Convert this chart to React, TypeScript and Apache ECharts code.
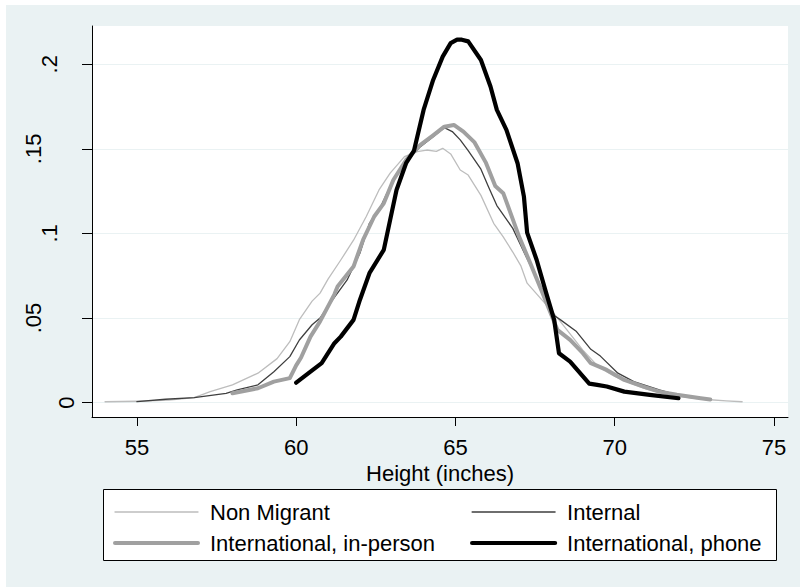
import React, { useEffect, useRef } from "react";
import * as echarts from "echarts";

const xTicks = [55, 60, 65, 70, 75];
const yTicks = [0, 0.05, 0.1, 0.15, 0.2];
const yTickLabels = ["0", ".05", ".1", ".15", ".2"];
const xTitle = "Height (inches)";
const seriesNames = ["Non Migrant", "Internal", "International, in-person", "International, phone"];

const nonMigrant: [number, number][] = [
  [54.0, 0.0005], [55.0, 0.0008], [56.0, 0.0015], [56.8, 0.003], [57.3, 0.0065],
  [58.0, 0.0105], [58.8, 0.0174], [59.4, 0.026], [59.8, 0.036], [60.1, 0.049],
  [60.5, 0.06], [60.75, 0.0647], [61.0, 0.073], [61.4, 0.0843], [61.8, 0.096],
  [62.2, 0.11], [62.6, 0.1257], [62.95, 0.1356], [63.4, 0.1454], [63.8, 0.1483],
  [64.1, 0.1493], [64.4, 0.1485], [64.6, 0.1503], [64.85, 0.147], [65.15, 0.1375],
  [65.4, 0.1345], [65.8, 0.1225], [66.2, 0.106], [66.5, 0.098], [66.8, 0.089],
  [67.05, 0.081], [67.25, 0.0706], [67.7, 0.061], [68.0, 0.0548], [68.5, 0.043],
  [69.0, 0.031], [69.5, 0.021], [70.0, 0.0155], [70.5, 0.0115], [71.0, 0.008],
  [71.5, 0.0055], [72.0, 0.0038], [72.5, 0.0025], [73.0, 0.0017], [73.5, 0.001],
  [74.0, 0.0005],
];

const internal: [number, number][] = [
  [55.0, 0.0006], [55.9, 0.002], [56.8, 0.003], [57.8, 0.0055], [58.15, 0.0075],
  [58.8, 0.0105], [59.3, 0.0183], [59.8, 0.0272], [60.1, 0.037], [60.5, 0.046],
  [60.75, 0.05], [61.0, 0.057], [61.6, 0.0725], [62.0, 0.0883], [62.3, 0.106],
  [62.65, 0.1158], [62.95, 0.1277], [63.25, 0.1375], [63.6, 0.1454], [63.9, 0.1513],
  [64.3, 0.1572], [64.65, 0.1625], [64.9, 0.1602], [65.15, 0.1553], [65.4, 0.149],
  [65.8, 0.138], [66.05, 0.127], [66.3, 0.1165], [66.8, 0.103], [67.25, 0.085],
  [67.65, 0.07], [68.1, 0.0515], [68.3, 0.0489], [68.8, 0.042], [69.25, 0.0315],
  [69.55, 0.0275], [70.1, 0.0174], [70.6, 0.0124], [71.4, 0.0075], [71.95, 0.0046],
  [72.5, 0.0026],
];

const inPerson: [number, number][] = [
  [58.0, 0.0055], [58.8, 0.0085], [59.3, 0.0124], [59.8, 0.0145], [60.0, 0.022],
  [60.15, 0.0265], [60.45, 0.039], [60.75, 0.048], [61.2, 0.064], [61.3, 0.0686],
  [61.8, 0.0804], [62.1, 0.0962], [62.45, 0.11], [62.75, 0.1178], [63.05, 0.1316],
  [63.45, 0.1434], [63.9, 0.1523], [64.3, 0.158], [64.65, 0.1631], [64.95, 0.1641],
  [65.25, 0.1602], [65.6, 0.1538], [65.95, 0.142], [66.25, 0.128], [66.5, 0.1238],
  [66.75, 0.111], [67.0, 0.098], [67.35, 0.0824], [67.75, 0.064], [68.2, 0.043],
  [68.6, 0.0371], [69.0, 0.0292], [69.25, 0.0233], [69.75, 0.0193], [70.3, 0.0134],
  [70.9, 0.0095], [71.4, 0.0065], [71.95, 0.0046], [72.7, 0.0026], [73.0, 0.0018],
];

const phone: [number, number][] = [
  [60.0, 0.0118], [60.45, 0.0183], [60.8, 0.0233], [61.2, 0.0351], [61.4, 0.039],
  [61.8, 0.0489], [62.0, 0.0607], [62.3, 0.0765], [62.75, 0.0903], [62.95, 0.108],
  [63.15, 0.1257], [63.45, 0.1415], [63.7, 0.149], [64.0, 0.173], [64.3, 0.1907],
  [64.6, 0.2045], [64.85, 0.2125], [65.05, 0.2145], [65.2, 0.2145], [65.4, 0.2135],
  [65.8, 0.2025], [66.1, 0.1868], [66.3, 0.173], [66.6, 0.1612], [66.95, 0.1415],
  [67.15, 0.1217], [67.25, 0.1005], [67.55, 0.0843], [67.85, 0.0647], [68.1, 0.0489],
  [68.25, 0.0292], [68.6, 0.0242], [69.2, 0.0112], [69.45, 0.0105], [69.75, 0.0095],
  [70.3, 0.0065], [71.1, 0.0046], [72.0, 0.0026],
];

const FONT = "'Liberation Sans', Arial, Helvetica, sans-serif";
const BG = "#EAF2F3";

export default function App() {
  const ref = useRef<HTMLDivElement>(null);

  useEffect(() => {
    if (!ref.current) return;
    const chart = echarts.init(ref.current, undefined, { renderer: "svg" });
    const labelText = { fontFamily: FONT, fontSize: 22, color: "#000" };
    const mkLine = (name: string, data: [number, number][], color: string, width: number) => ({
      name,
      type: "line",
      data,
      symbol: "none",
      showSymbol: false,
      silent: true,
      lineStyle: { color, width, join: "round", cap: "round" },
      itemStyle: { color },
      emphasis: { disabled: true },
    });
    const legendBase = {
      orient: "vertical",
      top: 501,
      itemWidth: 83,
      itemHeight: 14,
      itemGap: 9,
      padding: 0,
      selectedMode: false,
      itemStyle: { opacity: 0 },
      lineStyle: { width: "inherit" },
      textStyle: { ...labelText, lineHeight: 22, padding: [0, 0, 0, 7] },
    };
    chart.setOption({
      animation: false,
      backgroundColor: BG,
      graphic: [
        { type: "rect", left: 0, top: 0, shape: { width: 800, height: 5 }, style: { fill: "#fff" }, silent: true },
        { type: "rect", left: 0, top: 0, shape: { width: 6, height: 587 }, style: { fill: "#fff" }, silent: true },
        {
          type: "rect",
          shape: { x: 103.5, y: 489.5, width: 673, height: 71 },
          style: { fill: "#fff", stroke: "#000", lineWidth: 1 },
          silent: true,
          z: 1,
        },
      ],
      grid: {
        left: 92,
        right: 12,
        top: 26,
        bottom: 170,
        show: true,
        backgroundColor: "#fff",
        borderWidth: 0,
        containLabel: false,
      },
      xAxis: {
        type: "value",
        min: 53.59,
        max: 75.44,
        name: xTitle,
        nameLocation: "middle",
        nameGap: 40,
        nameTextStyle: labelText,
        axisLine: { show: true, onZero: false, lineStyle: { color: "#000", width: 1 } },
        axisTick: { show: true, length: 9, customValues: xTicks, lineStyle: { color: "#000", width: 1 } },
        axisLabel: { ...labelText, customValues: xTicks, margin: 19 },
        splitLine: { show: false },
      },
      yAxis: {
        type: "value",
        min: -0.0085,
        max: 0.2226,
        axisLine: { show: true, onZero: false, lineStyle: { color: "#000", width: 1 } },
        axisTick: { show: true, length: 10, customValues: yTicks, lineStyle: { color: "#000", width: 1 } },
        axisLabel: {
          ...labelText,
          customValues: yTicks,
          rotate: 90,
          margin: 15,
          formatter: (v: number) => {
            const i = yTicks.findIndex((t) => Math.abs(t - v) < 1e-9);
            const s = i >= 0 ? yTickLabels[i] : "";
            const key = s.length <= 1 ? "a" : s.length === 2 ? "b" : "c";
            return `{${key}|${s}}`;
          },
          rich: {
            a: { ...labelText, padding: [0, 0, 0, 0] },
            b: { ...labelText, padding: [0, 0, 17, 0] },
            c: { ...labelText, padding: [0, 0, 33, 0] },
          },
        },
        splitLine: { show: true, lineStyle: { color: BG, width: 1 } },
      },
      legend: [
        { ...legendBase, left: 113, data: [seriesNames[0], seriesNames[2]] },
        { ...legendBase, left: 470, data: [seriesNames[1], seriesNames[3]] },
      ],
      series: [
        mkLine(seriesNames[0], nonMigrant, "#BDBDBD", 1.3),
        mkLine(seriesNames[1], internal, "#3F3F3F", 1.3),
        mkLine(seriesNames[2], inPerson, "#A0A0A0", 4),
        mkLine(seriesNames[3], phone, "#000000", 4.2),
      ],
    });
    return () => chart.dispose();
  }, []);

  return (
    <div
      ref={ref}
      style={{ position: "absolute", left: 0, top: 0, width: 800, height: 587 }}
    />
  );
}
